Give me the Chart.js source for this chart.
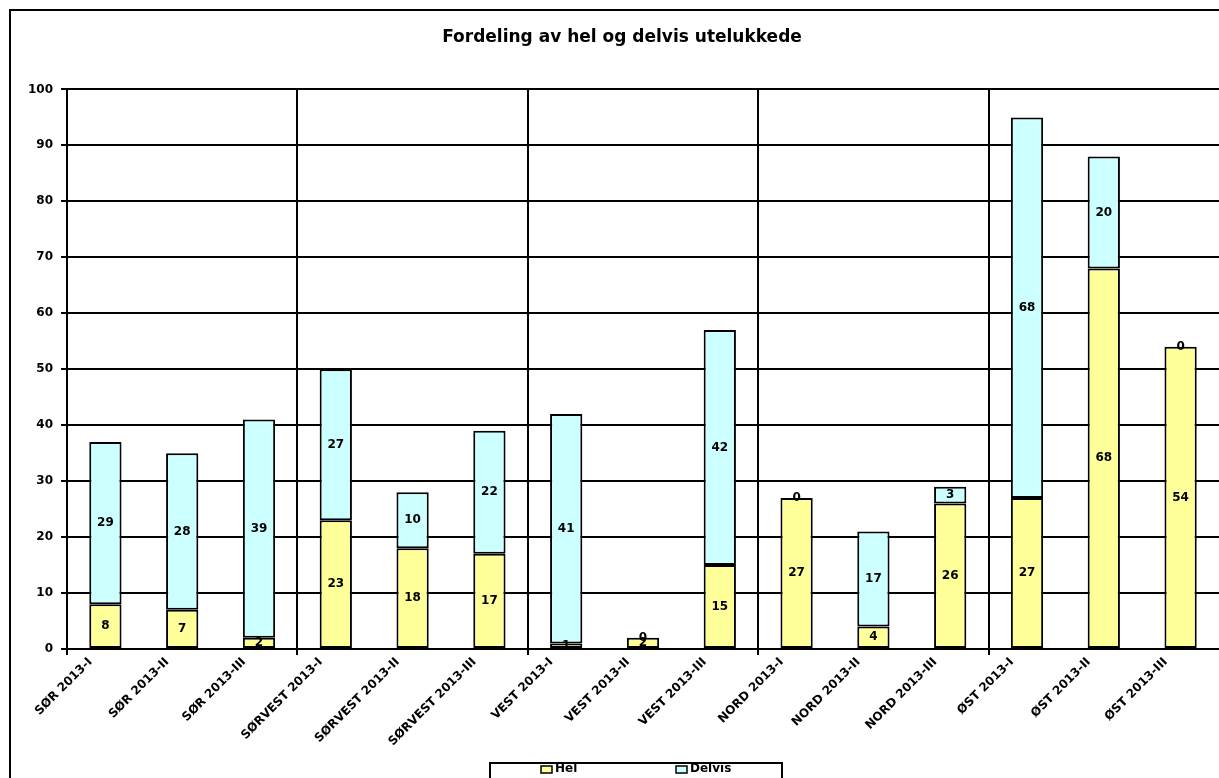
<!DOCTYPE html>
<html>
<head>
<meta charset="utf-8">
<script src="https://cdn.jsdelivr.net/npm/chart.js@4"></script>
<style>
  html, body { margin: 0; padding: 0; background: #fff; }
  #c { display: block; }
</style>
</head>
<body>
<canvas id="c" width="1219" height="778"></canvas>
<script>
const categories = ['SØR 2013-I', 'SØR 2013-II', 'SØR 2013-III', 'SØRVEST 2013-I', 'SØRVEST 2013-II', 'SØRVEST 2013-III', 'VEST 2013-I', 'VEST 2013-II', 'VEST 2013-III', 'NORD 2013-I', 'NORD 2013-II', 'NORD 2013-III', 'ØST 2013-I', 'ØST 2013-II', 'ØST 2013-III'];
const helValues = [8, 7, 2, 23, 18, 17, 1, 2, 15, 27, 4, 26, 27, 68, 54];
const delvisValues = [29, 28, 39, 27, 10, 22, 41, 0, 42, 0, 17, 3, 68, 20, 0];
const seriesNames = ['Hel', 'Delvis'];
const titleText = 'Fordeling av hel og delvis utelukkede';
const yMin = 0, yMax = 100, yStep = 10;

const FONT = 'DejaVu Sans';

const framePlugin = {
  id: 'frame',
  beforeDraw(chart) {
    const ctx = chart.ctx;
    ctx.save();
    ctx.fillStyle = '#fff';
    ctx.fillRect(0, 0, chart.width, chart.height);
    ctx.strokeStyle = '#000';
    ctx.lineWidth = 2;
    ctx.strokeRect(10, 10, chart.width + 50, chart.height + 50);
    ctx.restore();
  }
};

const valueLabels = {
  id: 'valueLabels',
  afterDatasetsDraw(chart) {
    const ctx = chart.ctx;
    ctx.save();
    ctx.font = 'bold 12px "' + FONT + '"';
    ctx.fillStyle = '#000';
    ctx.textAlign = 'center';
    ctx.textBaseline = 'middle';
    chart.data.datasets.forEach((ds, di) => {
      const meta = chart.getDatasetMeta(di);
      meta.data.forEach((el, i) => {
        const p = el.getProps(['x', 'y', 'base'], true);
        ctx.fillText(String(ds.data[i]), p.x, (p.y + p.base) / 2);
      });
    });
    ctx.restore();
  }
};

const legendBox = {
  id: 'legendBox',
  afterDraw(chart) {
    const ctx = chart.ctx;
    ctx.save();
    ctx.strokeStyle = '#000';
    ctx.lineWidth = 2;
    ctx.strokeRect(490, 763, 292, 60);
    const items = [{x: 541}, {x: 676}];
    ctx.font = 'bold 12px "' + FONT + '"';
    ctx.textBaseline = 'middle';
    ctx.textAlign = 'left';
    chart.data.datasets.forEach((ds, i) => {
      const it = items[i];
      ctx.fillStyle = ds.backgroundColor;
      ctx.fillRect(it.x, 766, 11, 7);
      ctx.lineWidth = 1.5;
      ctx.strokeRect(it.x, 766, 11, 7);
      ctx.fillStyle = '#000';
      ctx.fillText(ds.label, it.x + 14, 769);
    });
    ctx.restore();
  }
};

new Chart(document.getElementById('c'), {
  type: 'bar',
  data: {
    labels: categories,
    datasets: [
      { label: seriesNames[0], data: helValues, backgroundColor: '#FFFF99', borderColor: '#000', borderWidth: 2, borderSkipped: false, barPercentage: 0.42, categoryPercentage: 1 },
      { label: seriesNames[1], data: delvisValues, backgroundColor: '#CCFFFF', borderColor: '#000', borderWidth: 2, borderSkipped: false, barPercentage: 0.42, categoryPercentage: 1 }
    ]
  },
  options: {
    responsive: false,
    animation: false,
    layout: { padding: { left: 25, right: 0, top: 0, bottom: 0 } },
    plugins: {
      legend: { display: false },
      tooltip: { enabled: false },
      title: {
        display: true,
        text: titleText,
        color: '#000',
        font: { family: FONT, size: 17, weight: 'bold' },
        padding: { top: 27, bottom: 42 }
      }
    },
    scales: {
      x: {
        stacked: true,
        offset: true,
        grid: {
          offset: true,
          color: (c) => (c.index !== undefined && c.index % 3 === 0) ? '#000' : 'rgba(0,0,0,0)',
          lineWidth: 2,
          tickLength: 6,
          drawTicks: true
        },
        border: { display: true, color: '#000', width: 2 },
        ticks: {
          autoSkip: false,
          minRotation: 45,
          maxRotation: 45,
          padding: 0,
          labelOffset: -15,
          color: '#000',
          font: { family: FONT, size: 12, weight: 'bold' }
        },
        afterFit(s) { s.height = 129; s.paddingRight = 0; s.paddingLeft = 0; }
      },
      y: {
        stacked: true,
        min: yMin,
        max: yMax,
        grid: { color: '#000', lineWidth: 2, tickLength: 6 },
        border: { display: true, color: '#000', width: 2 },
        ticks: {
          stepSize: yStep,
          padding: 8,
          color: '#000',
          font: { family: FONT, size: 12, weight: 'bold' }
        },
        afterFit(s) { s.width = 42; }
      }
    }
  },
  plugins: [framePlugin, valueLabels, legendBox]
});
</script>
</body>
</html>
